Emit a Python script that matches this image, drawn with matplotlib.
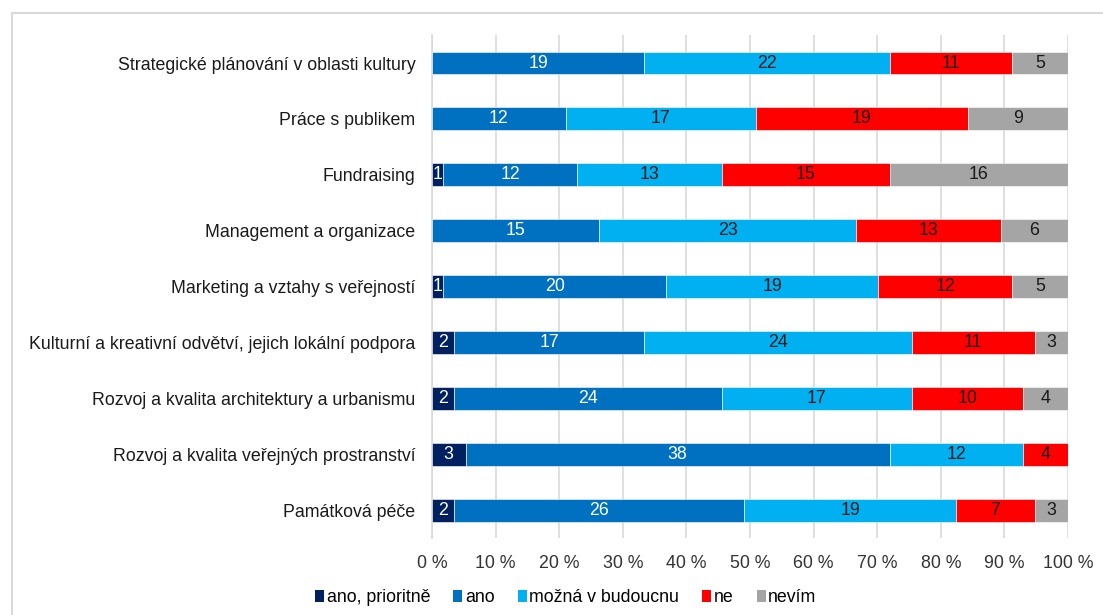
import matplotlib.pyplot as plt
import numpy as np
from matplotlib.lines import Line2D
from matplotlib.patches import Patch

plt.rcParams["font.family"] = ["Liberation Sans", "DejaVu Sans"]

categories = [
    "Strategické plánování v oblasti kultury",
    "Práce s publikem",
    "Fundraising",
    "Management a organizace",
    "Marketing a vztahy s veřejností",
    "Kulturní a kreativní odvětví, jejich lokální podpora",
    "Rozvoj a kvalita architektury a urbanismu",
    "Rozvoj a kvalita veřejných prostranství",
    "Památková péče",
]
series_names = ["ano, prioritně", "ano", "možná v budoucnu", "ne", "nevím"]
ano_prioritne = [0, 0, 1, 0, 1, 2, 2, 3, 2]
ano = [19, 12, 12, 15, 20, 17, 24, 38, 26]
mozna = [22, 17, 13, 23, 19, 24, 17, 12, 19]
ne = [11, 19, 15, 13, 12, 11, 10, 4, 7]
nevim = [5, 9, 16, 6, 5, 3, 4, 0, 3]
xtick_labels = [f"{v} %" for v in range(0, 101, 10)]

colors = ["#002060", "#0070C0", "#00B0F0", "#FF0000", "#A5A5A5"]
text_colors = ["white", "white", "#1a1a1a", "#1a1a1a", "#1a1a1a"]
FS = 12.8

data = np.array([ano_prioritne, ano, mozna, ne, nevim], dtype=float)
totals = data.sum(axis=0)
shares = data / totals

fig = plt.figure(figsize=(11.03, 6.15), dpi=100)
ax = fig.add_axes([0.3917, 0.125, 0.9683 - 0.3917, 0.818])

y = np.arange(len(categories))
left = np.zeros(len(categories))
for i, name in enumerate(series_names):
    ax.barh(y, shares[i], left=left, height=0.41, color=colors[i],
            edgecolor="white", linewidth=0.4, label=name, zorder=3)
    for j in range(len(categories)):
        if data[i, j] > 0:
            ax.text(left[j] + shares[i, j] / 2, y[j], f"{int(data[i, j])}",
                    ha="center", va="center", fontsize=FS,
                    color=text_colors[i], zorder=4)
    left += shares[i]

ax.set_xlim(0, 1)
ax.set_ylim(8.5, -0.5)
ax.set_xticks(np.linspace(0, 1, 11))
ax.set_xticklabels(xtick_labels, fontsize=FS, color="#333333")
ax.set_yticks(y)
ax.set_yticklabels(categories, fontsize=FS, color="#1a1a1a")
ax.tick_params(axis="both", length=0)
ax.tick_params(axis="y", pad=12)
ax.tick_params(axis="x", pad=12)
ax.grid(axis="x", color="#D9D9D9", linewidth=1.2, zorder=0)
for s in ["top", "right", "bottom"]:
    ax.spines[s].set_visible(False)
ax.spines["left"].set_color("#D9D9D9")
ax.spines["left"].set_linewidth(1.2)

handles = [Patch(facecolor=c, edgecolor="none") for c in colors]
fig.legend(handles, series_names, loc="center", bbox_to_anchor=(0.513, 0.028),
           ncol=5, frameon=False, fontsize=FS, handlelength=0.5,
           handleheight=0.7, handletextpad=0.15, columnspacing=1.3)

# outer chart frame (top and left edges visible)
fig.add_artist(Line2D([12 / 1103, 1.0], [1 - 13 / 615, 1 - 13 / 615],
                      transform=fig.transFigure, color="#D9D9D9", linewidth=1.5))
fig.add_artist(Line2D([12 / 1103, 12 / 1103], [0, 1 - 13 / 615],
                      transform=fig.transFigure, color="#D9D9D9", linewidth=1.5))

fig.savefig("out.png", dpi=100)
